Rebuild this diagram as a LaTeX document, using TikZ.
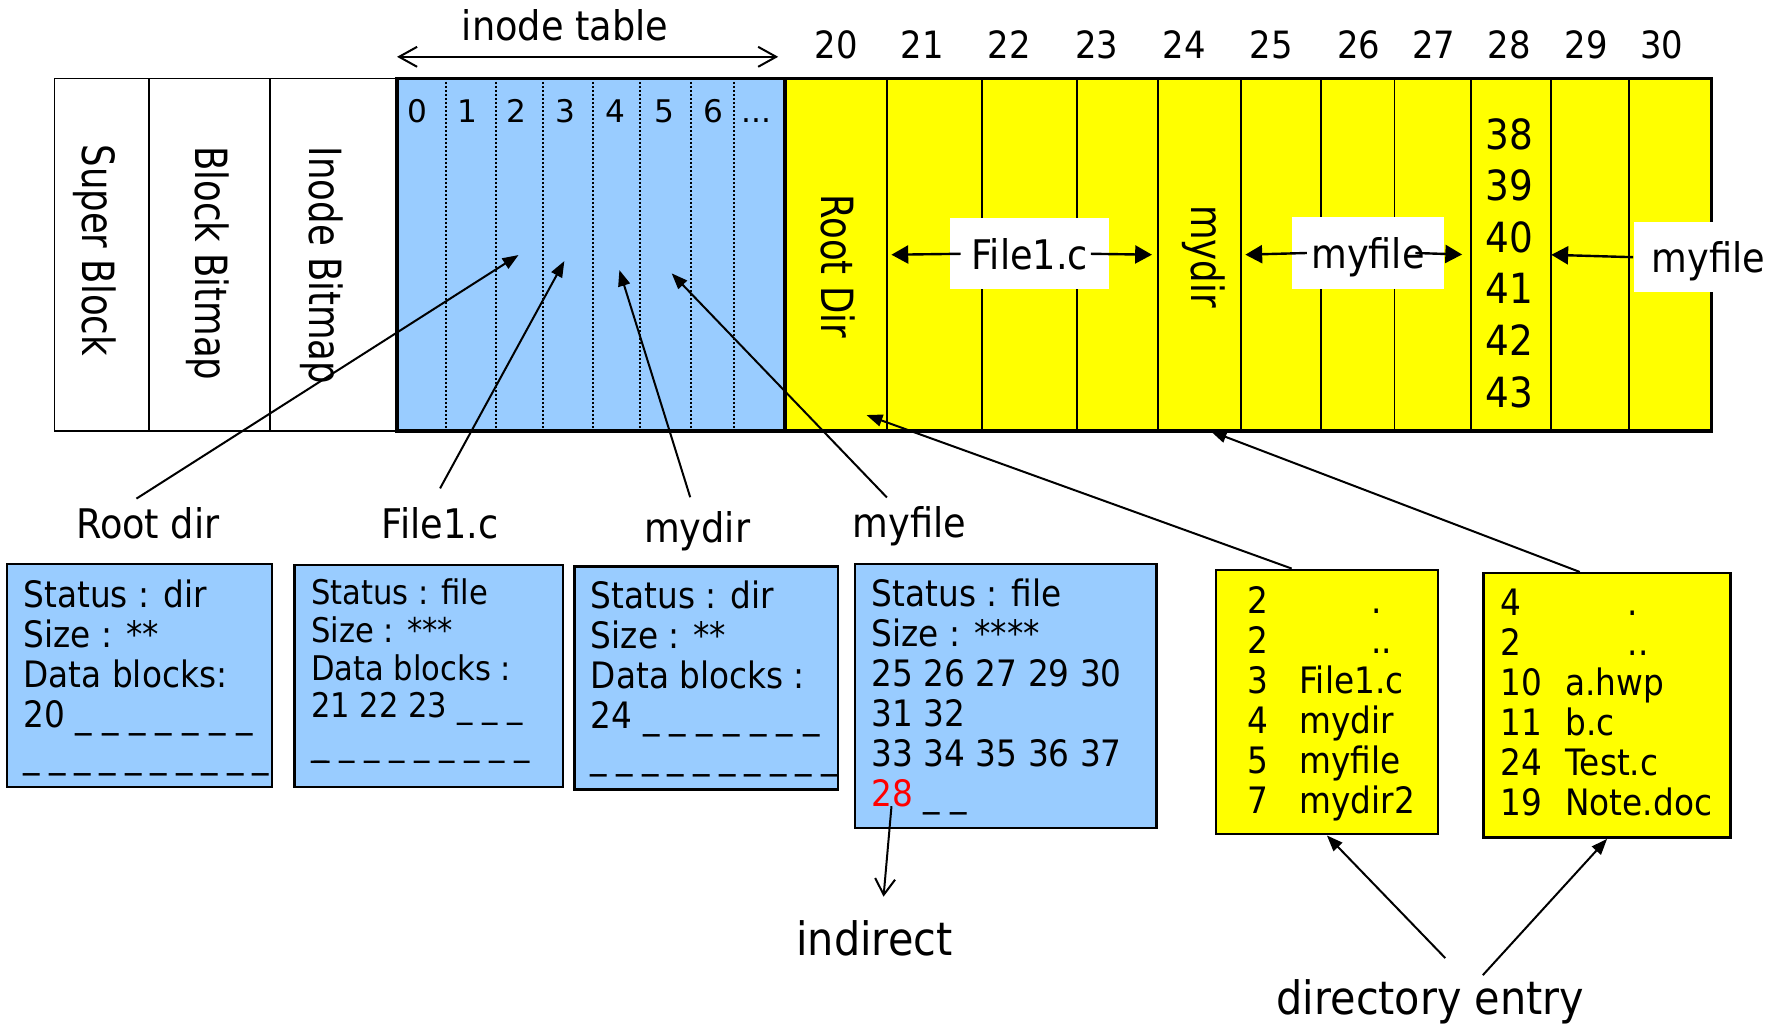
\documentclass[tikz,border=0pt]{standalone}
\usepackage{fontspec}
\setmainfont{DejaVu Sans}[FakeStretch=0.9]
\newfontfamily\rotfont{DejaVu Sans}[FakeStretch=0.8]
\newfontfamily\idxfont{DejaVu Sans}
\usetikzlibrary{shapes,arrows.meta}
\usetikzlibrary{positioning}

\definecolor{inodeblue}{RGB}{153,204,255}
\definecolor{blockyellow}{RGB}{255,255,0}

\tikzstyle{sysblock} = [rectangle, draw, line width=0.45pt, minimum height=3.1cm,
    inner sep=0pt, outer sep=0pt]
\tikzstyle{itable} = [rectangle, draw, line width=0.85pt, fill=inodeblue,
    minimum width=3.41cm, minimum height=3.1cm, inner sep=0pt, outer sep=0pt]
\tikzstyle{dblock} = [rectangle, draw, line width=0.45pt, fill=blockyellow,
    minimum height=3.1cm, inner sep=0pt, outer sep=0pt]
\tikzstyle{slotline} = [line width=0.45pt, dash pattern=on 0.45pt off 0.55pt]
\tikzstyle{sidetext} = [font=\rotfont\fontsize{11.1pt}{13pt}\selectfont,
    rotate=-90, anchor=base, inner sep=0pt]
\tikzstyle{colnum} = [font=\fontsize{9.4pt}{11pt}\selectfont, anchor=base, inner sep=0pt]
\tikzstyle{slotnum} = [font=\idxfont\fontsize{7.8pt}{9pt}\selectfont, anchor=base, inner sep=0pt]
\tikzstyle{namebox} = [rectangle, fill=white, font=\fontsize{10.2pt}{12pt}\selectfont,
    text depth=0pt, inner sep=0pt]
\tikzstyle{inode} = [rectangle, draw, line width=0.6pt, fill=inodeblue,
    anchor=north west, inner sep=0pt]
\tikzstyle{dirent} = [rectangle, draw, line width=0.6pt, fill=blockyellow,
    anchor=north west, inner sep=0pt]
\tikzstyle{fields} = [anchor=north west, align=left, inner sep=0pt,
    font=\fontsize{9.1pt}{10pt}\selectfont]
\tikzstyle{lbl} = [anchor=base, inner sep=2pt, font=\fontsize{10.2pt}{12pt}\selectfont]
\tikzstyle{biglbl} = [anchor=base, inner sep=0pt, font=\fontsize{11.5pt}{14pt}\selectfont]
\tikzstyle{line} = [draw, line width=0.5pt, -{Triangle[length=4pt,width=3pt]}]
\tikzstyle{bigline} = [draw, line width=0.6pt, -{Triangle[length=4.2pt,width=4.5pt]}]
\tikzstyle{openline} = [draw, line width=0.5pt, -{Straight Barb[length=4pt,width=5pt]}]
\tikzstyle{dimline} = [draw, line width=0.5pt,
    {Straight Barb[length=4.5pt,width=5pt]}-{Straight Barb[length=4.5pt,width=5pt]}]

\begin{document}
\begin{tikzpicture}[x=0.01cm, y=-0.01cm, node distance=0pt]
  \useasboundingbox (0,0) rectangle (1568,901);

  % Disk layout
  \node [sysblock, minimum width=0.83cm, anchor=north west] (super) at (48,69) {};
  \node [sysblock, minimum width=1.06cm, right=of super] (bbitmap) {};
  \node [sysblock, minimum width=1.12cm, right=of bbitmap] (ibitmap) {};
  \node [itable, right=of ibitmap] (itable) {};
  \node [dblock, minimum width=0.895cm, right=of itable] (b20) {};
  \node [dblock, minimum width=0.838cm, right=of b20] (b21) {};
  \node [dblock, minimum width=0.832cm, right=of b21] (b22) {};
  \node [dblock, minimum width=0.71cm, right=of b22] (b23) {};
  \node [dblock, minimum width=0.731cm, right=of b23] (b24) {};
  \node [dblock, minimum width=0.703cm, right=of b24] (b25) {};
  \node [dblock, minimum width=0.647cm, right=of b25] (b26) {};
  \node [dblock, minimum width=0.675cm, right=of b26] (b27) {};
  \node [dblock, minimum width=0.704cm, right=of b27] (b28) {};
  \node [dblock, minimum width=0.686cm, right=of b28] (b29) {};
  \node [dblock, minimum width=0.721cm, right=of b29] (b30) {};
  \draw [line width=0.85pt] (b20.north west) rectangle (b30.south east);

  \node [sidetext] (superlbl) at (72.2,220) {Super Block};
  \node [sidetext] (bbitmaplbl) at (171.6,231.5) {Block Bitmap};
  \node [sidetext] (ibitmaplbl) at (271.8,233.5) {Inode Bitmap};
  \node [sidetext] (rootdirblk) at (722.5,234) {Root Dir};
  \node [sidetext] (mydirblk) at (1048,225.5) {mydir};

  % inode slots
  \draw [slotline] (392.3,72) -- (392.3,376);
  \draw [slotline] (436,72) -- (436,376);
  \draw [slotline] (477.3,72) -- (477.3,376);
  \draw [slotline] (521.8,72) -- (521.8,376);
  \draw [slotline] (562.9,72) -- (562.9,376);
  \draw [slotline] (607.7,72) -- (607.7,376);
  \draw [slotline] (645.8,72) -- (645.8,376);
  \node [slotnum] (s0) at (367,107.9) {0};
  \node [slotnum] (s1) at (411,107.9) {1};
  \node [slotnum] (s2) at (454,107.9) {2};
  \node [slotnum] (s3) at (497.5,107.9) {3};
  \node [slotnum] (s4) at (541,107.9) {4};
  \node [slotnum] (s5) at (584,107.9) {5};
  \node [slotnum] (s6) at (627,107.9) {6};
  \node [slotnum] (sdots) at (665.5,107.9) {...};
  \coordinate (slot2) at (456,224.3);
  \coordinate (slot3) at (496.3,229.6);
  \coordinate (slot4) at (544.7,237.5);
  \coordinate (slot5) at (590.7,240.4);

  \node [lbl] (itlbl) at (497,36) {inode table};
  \path [dimline] ([yshift=0.19cm]itable.north west) -- ([xshift=-0.06cm,yshift=0.19cm]itable.north east);

  % block numbers
  \node [colnum] (n20) at (735.5,51.3) {20};
  \node [colnum] (n21) at (811,51.3) {21};
  \node [colnum] (n22) at (887.4,51.3) {22};
  \node [colnum] (n23) at (964.5,51.3) {23};
  \node [colnum] (n24) at (1041.6,51.3) {24};
  \node [colnum] (n25) at (1118.1,51.3) {25};
  \node [colnum] (n26) at (1195.1,51.3) {26};
  \node [colnum] (n27) at (1261,51.3) {27};
  \node [colnum] (n28) at (1327.4,51.3) {28};
  \node [colnum] (n29) at (1395,51.3) {29};
  \node [colnum] (n30) at (1461.3,51.3) {30};

  \node [font=\fontsize{10.4pt}{12.9pt}\selectfont, align=center, anchor=north, inner sep=0pt]
    (ptrlist) at (1327.4,98.8) {\strut 38\\39\\40\\41\\42\\43};

  % file names over the blocks
  \node [namebox, minimum width=1.40cm, minimum height=0.625cm] (f1box) at (905.6,223.2) {File1.c};
  \node [namebox, minimum width=1.34cm, minimum height=0.63cm] (mfbox) at (1203,222.5) {myfile};
  \node [namebox, minimum width=1.31cm, minimum height=0.62cm] (mfbox2) at (1502.5,226.2) {myfile};
  \path [bigline, shorten >=0.04cm] ([xshift=0.1cm]f1box.west) -- (b21.west);
  \path [bigline, shorten >=0.05cm] ([xshift=-0.17cm]f1box.east) -- (b23.east);
  \path [bigline, shorten >=0.04cm] ([xshift=0.14cm]mfbox.west) -- (b25.west);
  \path [bigline, shorten >=0.08cm] ([xshift=-0.26cm]mfbox.east) -- (b27.east);
  \path [bigline] (mfbox2.west) -- (b28.east);

  % inodes
  \node [inode, minimum width=2.33cm, minimum height=1.96cm] (rootino) at (5,495) {};
  \node [fields] (rootinotxt) at (20,508.7) {\strut Status : dir\\Size : **\\Data blocks:\\
    20 \_ \_ \_ \_ \_ \_ \_\\\makebox[2.16cm][s]{\_ \_ \_ \_ \_ \_ \_ \_ \_ \_}};
  \node [inode, minimum width=2.36cm, minimum height=1.95cm] (fileino) at (258,496) {};
  \node [fields, font=\fontsize{8.5pt}{9.4pt}\selectfont] (fileinotxt) at (273,508.2)
    {\strut Status : file\\Size : ***\\Data blocks :\\21 22 23 \_ \_ \_\\
    \makebox[1.92cm][s]{\_\kern-.35em\_ \_ \_ \_ \_ \_ \_ \_ \_}};
  \node [inode, minimum width=2.32cm, minimum height=1.96cm] (mydirino) at (504,497) {};
  \node [fields] (mydirinotxt) at (519,510.1) {\strut Status : dir\\Size : **\\Data blocks :\\
    24 \_ \_ \_ \_ \_ \_ \_\\\makebox[2.17cm][s]{\_ \_ \_ \_ \_ \_ \_ \_ \_ \_}};
  \node [inode, minimum width=2.65cm, minimum height=2.32cm] (myfileino) at (751,495) {};
  \node [fields] (myfileinotxt) at (766,508.4) {\strut Status : file\\Size : ****\\
    25 26 27 29 30\\31 32\\33 34 35 36 37\\\textcolor{red}{28} \_ \_};

  \node [lbl] (rootlbl) at (130,473.5) {Root dir};
  \node [lbl] (filelbl) at (387,473.5) {File1.c};
  \node [lbl] (mydirlbl) at (613,477.3) {mydir};
  \node [lbl] (myfilelbl) at (800,472.5) {myfile};
  \path [line] ([xshift=-0.1cm]rootlbl.north) -- (slot2);
  \path [line] ([yshift=0.09cm]filelbl.north) -- (slot3);
  \path [line] ([xshift=-0.06cm,yshift=0.05cm]mydirlbl.north) -- (slot4);
  \path [line] ([xshift=-0.2cm]myfilelbl.north) -- (slot5);

  % indirect block
  \coordinate (ptr28) at (784,709);
  \node [biglbl] (indlbl) at (769,840) {indirect};
  \path [openline] (ptr28) -- ([xshift=0.08cm,yshift=0.2cm]indlbl.north);

  % directory entries
  \node [dirent, minimum width=1.95cm, minimum height=2.325cm] (rootents) at (1068.3,500) {};
  \node [fields] (rootentstxt) at (1096,514.6) {%
    \strut\makebox[13.1pt][l]{2}\hspace{17.9pt}.\\
    \makebox[13.1pt][l]{2}\hspace{17.9pt}..\\
    \makebox[13.1pt][l]{3}File1.c\\
    \makebox[13.1pt][l]{4}mydir\\
    \makebox[13.1pt][l]{5}myfile\\
    \makebox[13.1pt][l]{7}mydir2};
  \node [dirent, minimum width=2.17cm, minimum height=2.325cm] (mydirents) at (1303.7,503) {};
  \node [fields] (mydirentstxt) at (1319,516.1) {%
    \strut\makebox[16.2pt][l]{4}\hspace{15.6pt}.\\
    \makebox[16.2pt][l]{2}\hspace{15.6pt}..\\
    \makebox[16.2pt][l]{10}a.hwp\\
    \makebox[16.2pt][l]{11}b.c\\
    \makebox[16.2pt][l]{24}Test.c\\
    \makebox[16.2pt][l]{19}Note.doc};

  \coordinate (rootdirptr) at (762,365);
  \path [line] ([xshift=-0.31cm]rootents.north) -- (rootdirptr);
  \path [line] ([xshift=-0.24cm]mydirents.north) -- ([xshift=0.1cm]b24.south);

  \node [biglbl] (delbl) at (1258,892) {directory entry};
  \path [line] ([xshift=0.13cm,yshift=0.18cm]delbl.north) -- (rootents.south);
  \path [line] ([xshift=0.46cm,yshift=0.03cm]delbl.north) -- (mydirents.south);

\end{tikzpicture}
\end{document}
